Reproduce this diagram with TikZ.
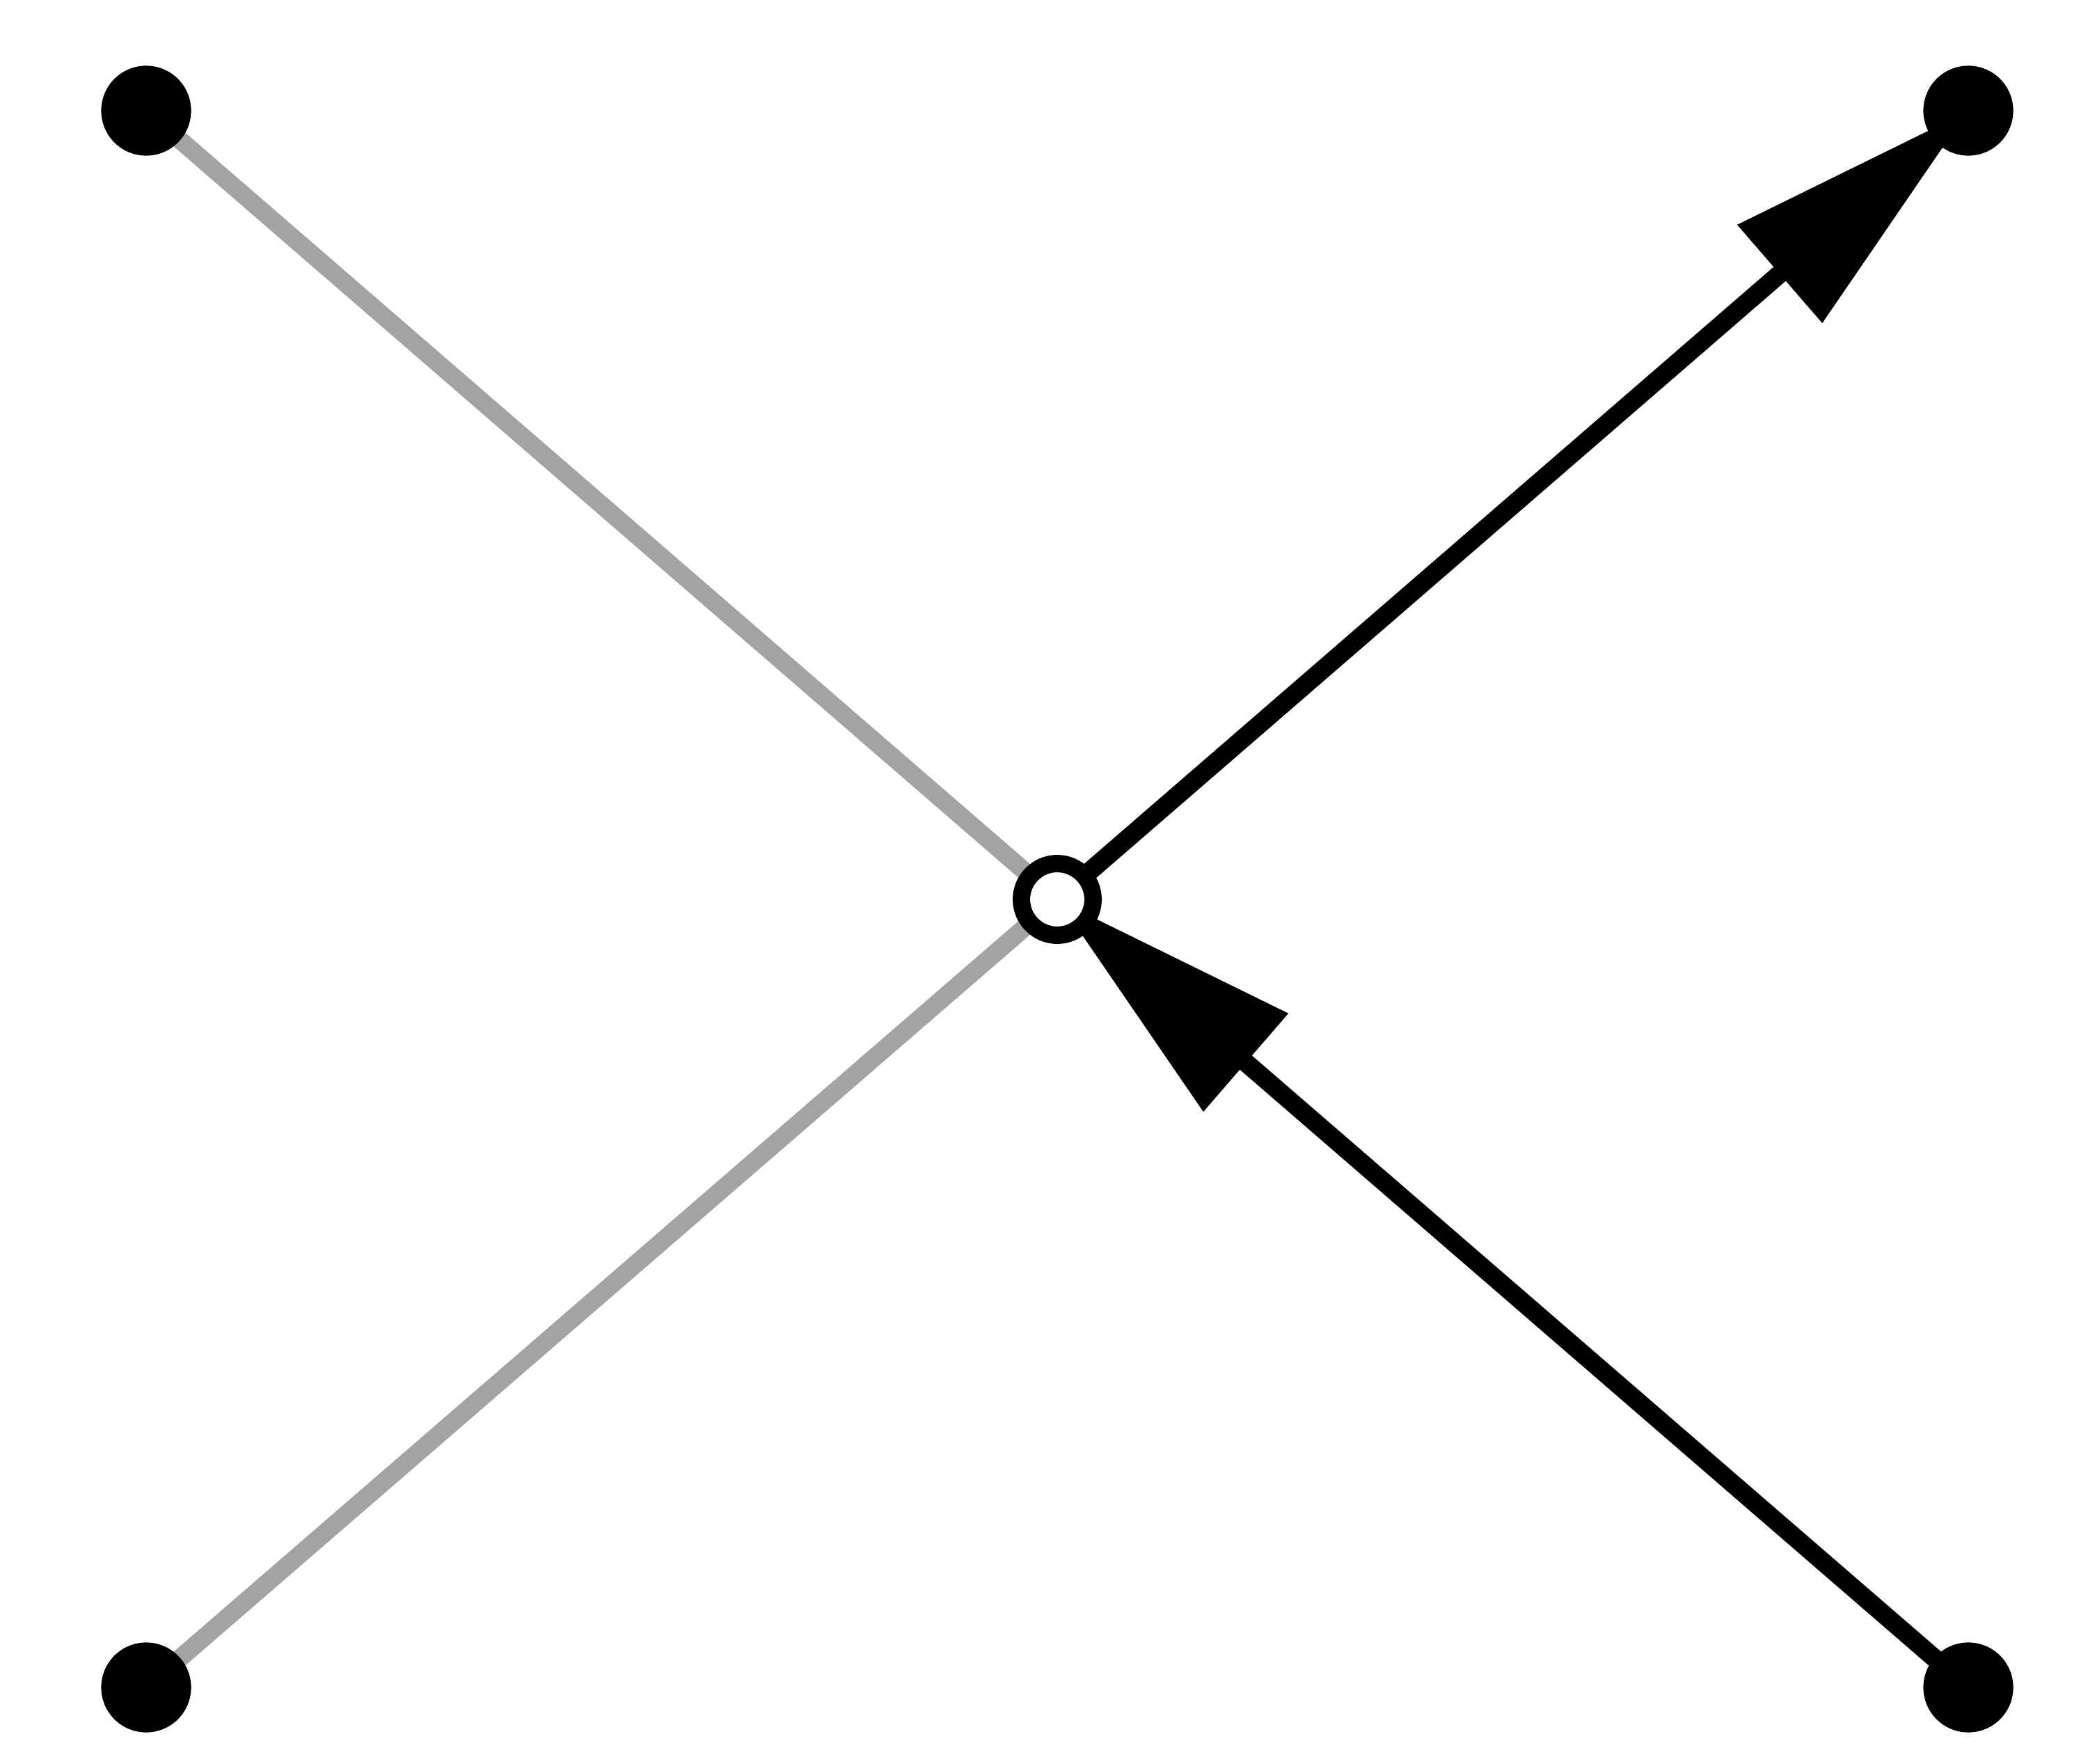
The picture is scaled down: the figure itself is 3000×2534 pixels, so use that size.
\documentclass[tikz,border=0pt]{standalone}
\usetikzlibrary{arrows.meta}
\definecolor{edgegray}{RGB}{163,163,163}
\pgfdeclarelayer{bg}
\pgfsetlayers{bg,main}
\tikzset{
  dotnode/.style={circle,fill=black,inner sep=0pt,minimum size=31pt},
  ringnode/.style={circle,draw=black,fill=white,line width=6pt,inner sep=0pt,minimum size=24.7pt},
  grayedge/.style={draw=edgegray,line width=6.2pt},
  blackedge/.style={draw=black,line width=6.4pt,-{Triangle[length=86pt,width=43pt]}}
}
\begin{document}
\begin{tikzpicture}[x=0.24pt,y=-0.24pt]
\useasboundingbox (0,0) rectangle (3000,2534);
\node[dotnode] (tl) at (210,159) {};
\node[dotnode] (tr) at (2828,159) {};
\node[dotnode] (bl) at (210,2424) {};
\node[dotnode] (br) at (2828,2424) {};
\node[ringnode] (c) at (1519,1292) {};
\begin{pgfonlayer}{bg}
\draw[grayedge] (tl.center) -- (c.center);
\draw[grayedge] (bl.center) -- (c.center);
\draw[blackedge] (c.center) -- (tr.center);
\draw[blackedge] (br.center) -- (c.center);
\end{pgfonlayer}
\end{tikzpicture}
\end{document}
